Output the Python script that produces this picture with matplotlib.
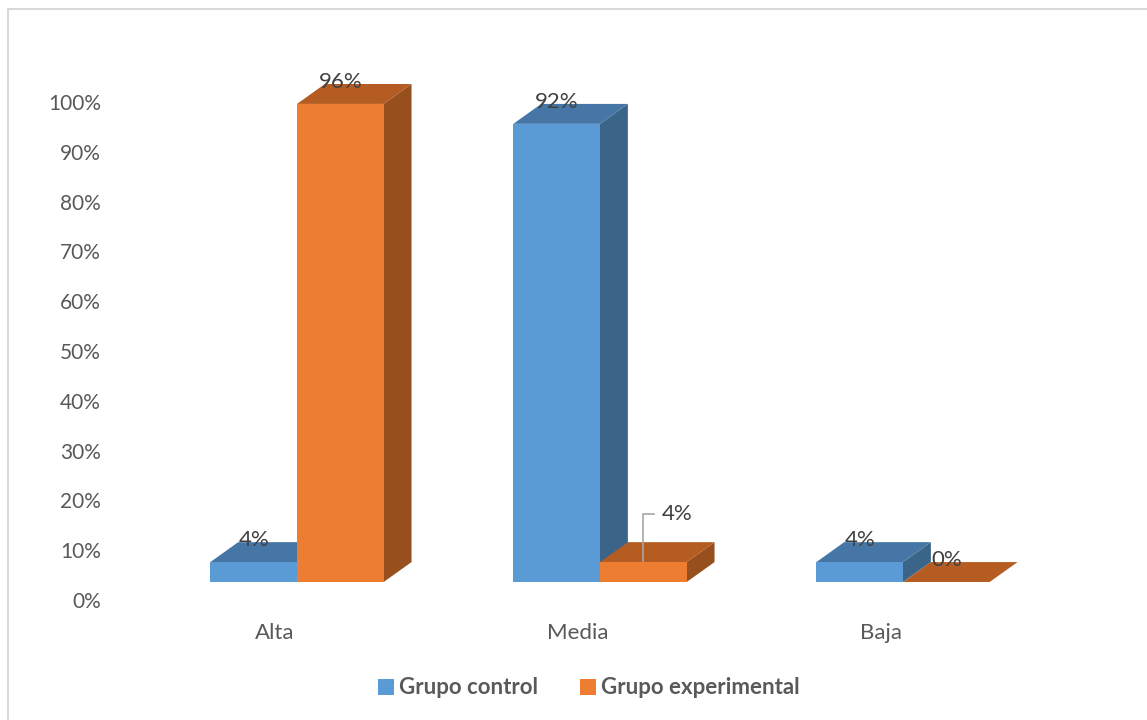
"""Grouped pseudo-3D column chart: Grupo control vs Grupo experimental."""

import matplotlib

matplotlib.use("Agg")
import matplotlib.pyplot as plt
from matplotlib.patches import Polygon, Rectangle
from matplotlib.transforms import ScaledTranslation

plt.rcParams["font.family"] = ["Lato", "DejaVu Sans"]

categories = ["Alta", "Media", "Baja"]
control = [4, 92, 4]
experimental = [96, 4, 0]
series_names = ["Grupo control", "Grupo experimental"]
y_ticks = [0, 10, 20, 30, 40, 50, 60, 70, 80, 90, 100]
y_tick_labels = [f"{v}%" for v in y_ticks]

FRONT = ["#5B9BD5", "#ED7D31"]
TOP = ["#4576A6", "#B45C22"]
SIDE = ["#3A6589", "#964F1D"]
TEXT = "#595959"
LABEL = "#404040"

BAR_W = 0.286   # width of each column front (category spacing = 1)
DEPTH_X = 0.092  # receding offset, x units
DEPTH_Y = 4.0    # receding offset, percent units

W, H, DPI = 1147, 720, 100
fig = plt.figure(figsize=(W / DPI, H / DPI), dpi=DPI)

# axes: x=0 sits at 297 px, one category = 303 px; y=0 at 582 px, 100% at 84 px
x0_px, step_px = 297.0, 303.0
ax_left_px = 110.0
ax = fig.add_axes([ax_left_px / W, (H - 582) / H, 1 - ax_left_px / W, 498 / H])
ax.set_xlim((ax_left_px - x0_px) / step_px, (W - x0_px) / step_px)
ax.set_ylim(0, 100)
for side in ax.spines.values():
    side.set_visible(False)


def draw_column(x_left, value, k):
    x_right = x_left + BAR_W
    # side face
    ax.add_patch(Polygon([(x_right, 0), (x_right + DEPTH_X, DEPTH_Y),
                          (x_right + DEPTH_X, value + DEPTH_Y), (x_right, value)],
                         closed=True, facecolor=SIDE[k], edgecolor="none", clip_on=False))
    # top face
    ax.add_patch(Polygon([(x_left, value), (x_right, value),
                          (x_right + DEPTH_X, value + DEPTH_Y), (x_left + DEPTH_X, value + DEPTH_Y)],
                         closed=True, facecolor=TOP[k], edgecolor="none", clip_on=False))
    # front face
    if value > 0:
        ax.add_patch(Rectangle((x_left, 0), BAR_W, value, facecolor=FRONT[k],
                               edgecolor="none", clip_on=False))


series = [control, experimental]
for i in range(len(categories)):
    for k, vals in enumerate(series):
        draw_column(i - BAR_W + k * BAR_W, vals[i], k)

# value labels above each column
label_dy = 4.4
for i in range(len(categories)):
    for k, vals in enumerate(series):
        xc = i - BAR_W / 2 + k * BAR_W
        v = vals[i]
        if categories[i] == "Media" and k == 1:
            # small column: label pulled out with a leader line
            lx = [xc, xc, xc + 0.036]
            ly = [v + 0.3, v + 9.7, v + 9.7]
            ax.plot(lx, ly, color="#A6A6A6", linewidth=1.2, clip_on=False)
            ax.text(xc + 0.112, v + 9.65, f"{v}%", ha="center", va="center",
                    fontsize=16, color=LABEL)
        else:
            ax.text(xc, v + label_dy, f"{v}%", ha="center", va="center",
                    fontsize=16, color=LABEL)

ax.set_yticks(y_ticks)
ax.set_yticklabels(y_tick_labels, fontsize=15, color=TEXT)
ax.set_xticks(range(len(categories)))
ax.set_xticklabels(categories, fontsize=16, color=TEXT)
ax.tick_params(axis="both", length=0)
ax.tick_params(axis="y", pad=6.5)
ax.tick_params(axis="x", pad=29.5)
shift_y = ScaledTranslation(0, -18 / DPI, fig.dpi_scale_trans)
for lab in ax.get_yticklabels():
    lab.set_transform(lab.get_transform() + shift_y)
shift_x = ScaledTranslation(-22 / DPI, 0, fig.dpi_scale_trans)
for lab in ax.get_xticklabels():
    lab.set_transform(lab.get_transform() + shift_x)

# legend
handles = [Rectangle((0, 0), 1, 1, facecolor=c, edgecolor="none") for c in FRONT]
fig.legend(handles, series_names, loc="center", bbox_to_anchor=(589 / W, 1 - 688 / H),
           ncol=2, frameon=False, handlelength=0.7, handleheight=0.7, handletextpad=0.25,
           columnspacing=1.9, prop={"weight": "bold", "size": 16}, labelcolor=TEXT)

# chart-area border (top and left edges)
fig.add_artist(plt.Line2D([8 / W, 1], [1 - 9 / H, 1 - 9 / H], color="#D9D9D9",
                          linewidth=1.5, transform=fig.transFigure))
fig.add_artist(plt.Line2D([8 / W, 8 / W], [0, 1 - 9 / H], color="#D9D9D9",
                          linewidth=1.5, transform=fig.transFigure))

fig.savefig("out.png", dpi=DPI)
